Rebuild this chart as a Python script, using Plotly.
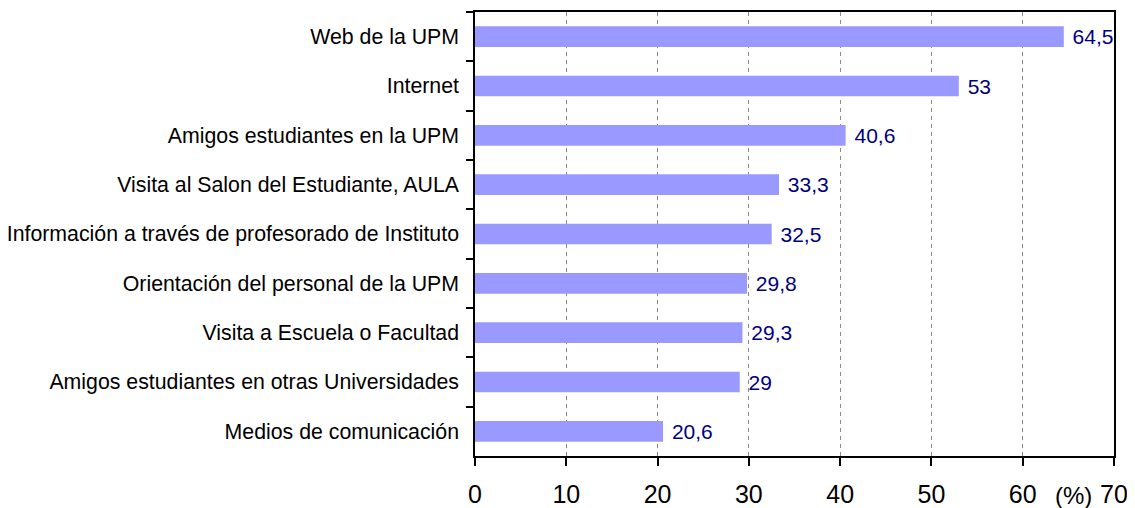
import plotly.graph_objects as go

categories = [
    "Web de la UPM",
    "Internet",
    "Amigos estudiantes en la UPM",
    "Visita al Salon del Estudiante, AULA",
    "Información a través de profesorado de Instituto",
    "Orientación del personal de la UPM",
    "Visita a Escuela o Facultad",
    "Amigos estudiantes en otras Universidades",
    "Medios de comunicación",
]
values = [64.5, 53.0, 40.6, 33.3, 32.5, 29.8, 29.3, 29.0, 20.6]
x_ticks = [0, 10, 20, 30, 40, 50, 60, 70]
unit_label = "(%)"

labels = ["\u00a0" + f"{v:g}".replace(".", ",") for v in values]

FONT = "Liberation Sans, Arial, sans-serif"

fig = go.Figure(
    go.Bar(
        x=values,
        y=categories,
        orientation="h",
        marker=dict(color="#9999FF", line=dict(width=0)),
        text=labels,
        textposition="outside",
        constraintext="none",
        cliponaxis=False,
        textfont=dict(family=FONT, size=21, color="#000080"),
        width=0.42,
        hoverinfo="skip",
    )
)

# page body has an 8px margin, so the figure is offset by 8px
fig.update_layout(
    template="none",
    width=1127,
    height=500,
    margin=dict(l=467, r=21, t=4, b=52),
    paper_bgcolor="white",
    plot_bgcolor="white",
    showlegend=False,
    font=dict(family=FONT, color="black"),
)

fig.update_xaxes(
    range=[0, 70],
    tickvals=x_ticks,
    ticktext=[str(t) for t in x_ticks],
    showgrid=True,
    gridcolor="#8a8a8a",
    gridwidth=1,
    griddash="4px,4px",
    zeroline=False,
    showline=True,
    linecolor="black",
    linewidth=1.5,
    mirror=True,
    ticks="outside",
    ticklen=8,
    tickcolor="black",
    tickwidth=1.5,
    tickfont=dict(family=FONT, size=25, color="black"),
    ticklabelstandoff=7,
    automargin=False,
    fixedrange=True,
)

fig.update_yaxes(
    autorange="reversed",
    showgrid=False,
    zeroline=False,
    showline=True,
    linecolor="black",
    linewidth=1.5,
    mirror=True,
    ticks="outside",
    tickson="boundaries",
    ticklen=7,
    tickcolor="black",
    tickwidth=1.5,
    tickfont=dict(family=FONT, size=21.3, color="black"),
    ticklabelstandoff=10,
    automargin=False,
    fixedrange=True,
)

fig.add_annotation(
    text=unit_label,
    xref="x",
    yref="paper",
    x=65.6,
    y=0,
    yshift=-39,
    showarrow=False,
    font=dict(family=FONT, size=24, color="black"),
    xanchor="center",
    yanchor="middle",
)

fig.write_html("out.html")
